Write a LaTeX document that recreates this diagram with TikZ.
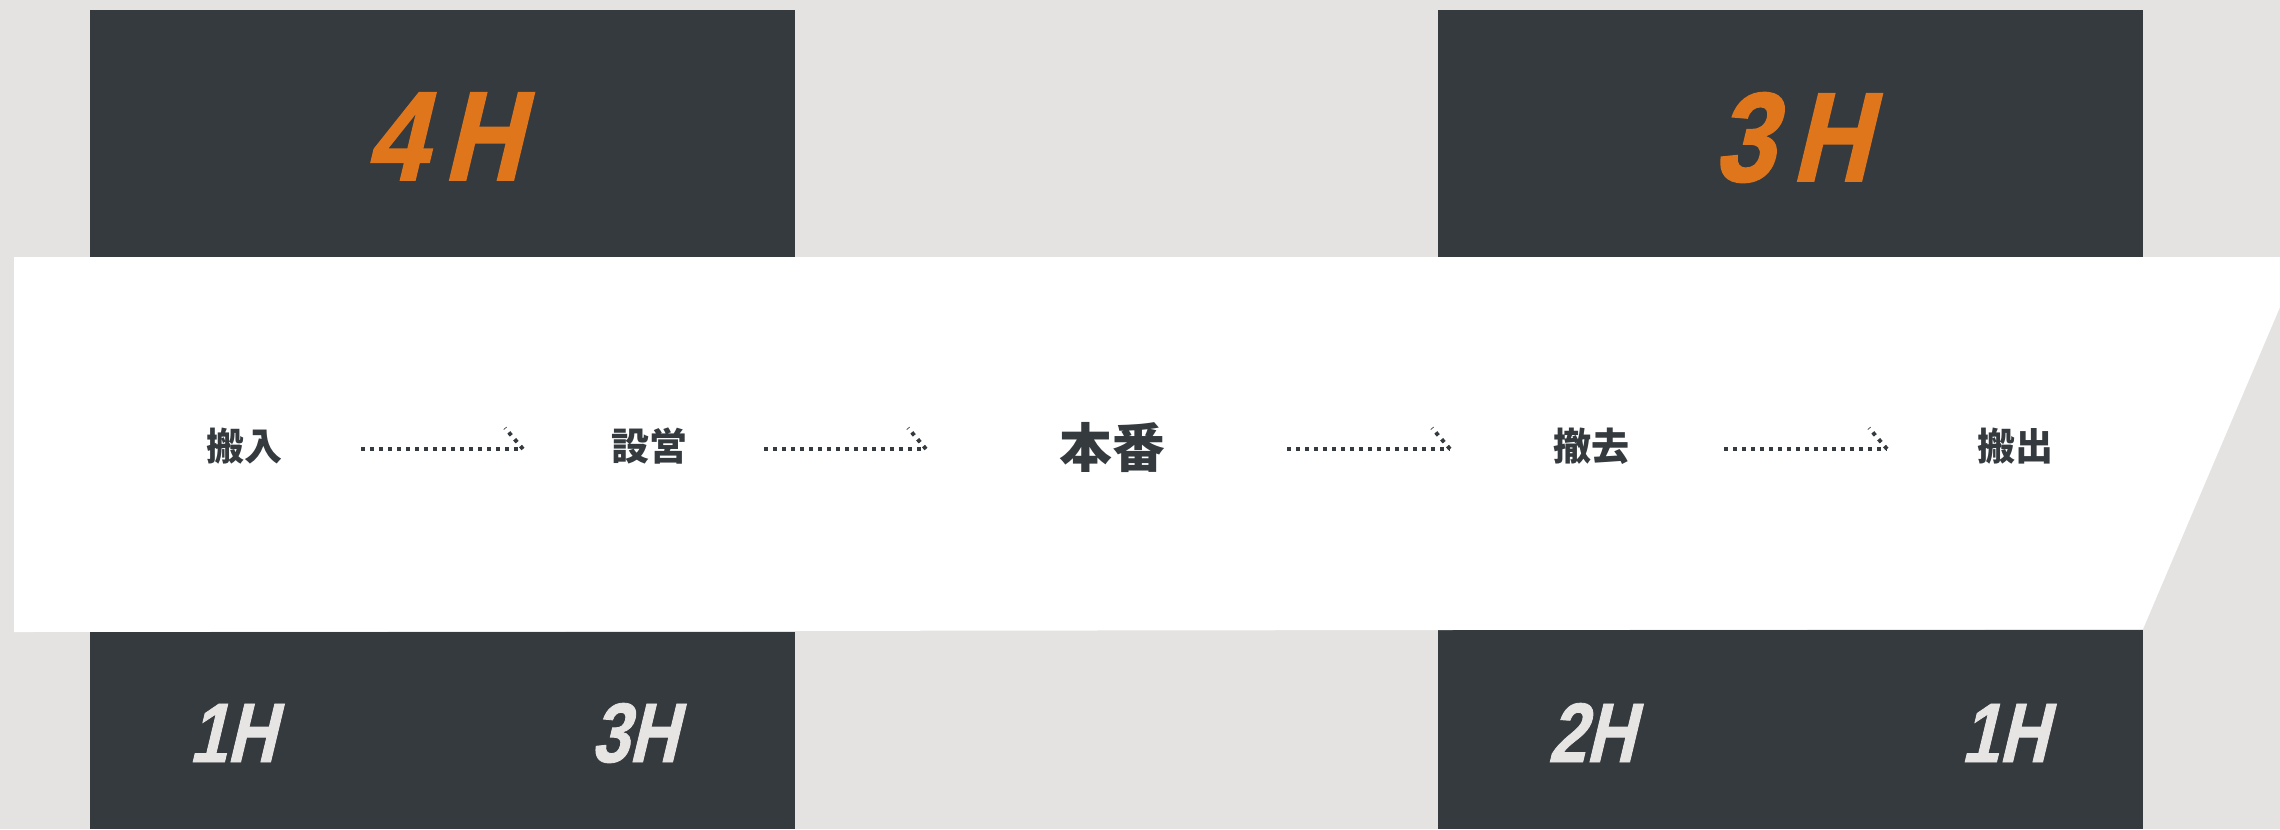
\documentclass[tikz,border=0pt]{standalone}
\usepackage{fontspec}
\newfontfamily\jp{Noto Sans CJK JP}
\newfontfamily\hbig[FakeStretch=0.85,FakeSlant=0.24,FakeBold=1.5]{Liberation Sans}
\newfontfamily\hsmall[FakeStretch=0.8,FakeSlant=0.24,FakeBold=1]{Liberation Sans}
\definecolor{bg}{HTML}{E4E3E1}
\definecolor{darkc}{HTML}{343A3E}
\definecolor{orgc}{HTML}{DF761C}
\definecolor{litec}{HTML}{E6E5E3}
\tikzset{
  bigh/.style={anchor=base, inner sep=0pt, text=orgc, font=\hbig\bfseries\fontsize{36}{36}\selectfont},
  smallh/.style={anchor=base, inner sep=0pt, text=litec, font=\hsmall\bfseries\fontsize{24}{24}\selectfont},
  steplabel/.style={inner sep=0pt, text=darkc, font=\jp\bfseries\fontsize{10.8}{11}\selectfont},
  mainlabel/.style={inner sep=0pt, text=darkc, font=\jp\bfseries\fontsize{15}{15}\selectfont},
  dotline/.style={draw=darkc, line width=1.1pt, dash pattern=on 1.1pt off 1.46pt},
  panel/.style={fill=darkc}
}
\begin{document}
\begin{tikzpicture}[x=0.01cm,y=-0.01cm]
\fill[bg] (0,0) rectangle (2280,829);
\useasboundingbox (0,0) rectangle (2280,829);
% dark panels
\fill[panel] (90,10) rectangle (795,257);
\fill[panel] (1438,10) rectangle (2143,257);
\fill[panel] (90,632) rectangle (795,829);
\fill[panel] (1438,630) rectangle (2143,829);
% white band
\fill[white] (14,257) -- (2280,257) -- (2280,307) -- (2143,629) -- (14,632) -- cycle;
% hour labels
\node[bigh] (t1) at (443,180) {4\kern5pt H};
\node[bigh] (t2) at (1791,181) {3\kern5pt H};
\node[smallh] (b1) at (232,762) {1H};
\node[smallh] (b2) at (634,762) {3H};
\node[smallh] (b3) at (1591,762) {2H};
\node[smallh] (b4) at (2004,762) {1H};
% step labels
\node[steplabel] (s1) at (244,446) {搬入};
\node[steplabel] (s2) at (649,446) {設営};
\node[mainlabel] (s3) at (1112,447) {本番};
\node[steplabel] (s4) at (1591,446) {撤去};
\node[steplabel] (s5) at (2015,446) {搬出};
% arrows
\coordinate (a1s) at (361,449); \coordinate (a1e) at (523,449);
\coordinate (a2s) at (764,449); \coordinate (a2e) at (926,449);
\coordinate (a3s) at (1287,449); \coordinate (a3e) at (1450,449);
\coordinate (a4s) at (1724,449); \coordinate (a4e) at (1887,449);
\foreach \i in {1,2,3,4}{
  \draw[dotline] (a\i s) -- (a\i e);
  \draw[dotline] (a\i e) -- ++(-18,-21);
}
\end{tikzpicture}
\end{document}
